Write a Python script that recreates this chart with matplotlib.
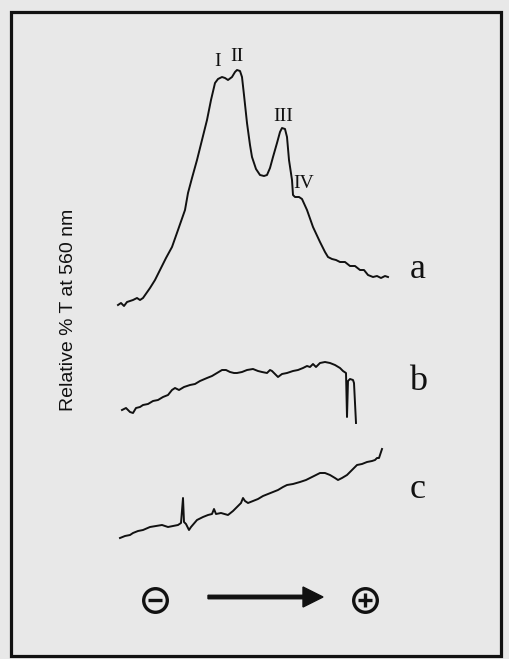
import matplotlib
matplotlib.use("Agg")
import matplotlib.pyplot as plt
from matplotlib.patches import Rectangle, FancyArrow

# densitometer traces, x = migration distance, y = signal above each trace's start
a_x = [0, 3, 6, 9, 15, 19, 22, 25, 32, 37, 42, 48, 54, 60, 67, 70, 74, 79, 84, 89,
       93, 97, 100, 104, 107, 110, 114, 117, 119, 122, 124, 126, 129, 132, 134, 138,
       142, 146, 149, 152, 155, 159, 162, 164, 167, 169, 171, 174, 175, 177, 181, 184,
       189, 195, 202, 207, 210, 214, 218, 222, 227, 232, 237, 242, 246, 250, 255, 259,
       263, 267, 270]
a_y = [0, 2, -1, 3, 5, 7, 5, 7, 17, 25, 35, 47, 58, 75, 95, 112, 127, 145, 165, 185,
       205, 222, 226, 228, 227, 225, 228, 233, 235, 234, 228, 210, 182, 160, 148, 136,
       130, 129, 130, 137, 148, 162, 173, 177, 176, 168, 145, 125, 110, 108, 108, 106,
       95, 78, 63, 53, 48, 46, 45, 43, 43, 39, 39, 35, 35, 30, 28, 29,
       27, 29, 28]

b_x = [4, 8, 12, 15, 18, 22, 25, 30, 35, 40, 45, 50, 54, 57, 61, 66, 72, 77, 82, 89,
       94, 99, 104, 108, 112, 116, 119, 124, 129, 135, 140, 144, 149, 152, 154, 157,
       160, 164, 169, 175, 180, 185, 189, 192, 195, 198, 202, 207, 212, 217, 222, 225,
       228, 229, 230, 232, 235, 236, 238]
b_y = [0, 2, -2, -3, 2, 3, 5, 6, 9, 10, 13, 15, 20, 22, 20, 23, 25, 26, 29, 32,
       34, 37, 40, 40, 38, 37, 37, 38, 40, 41, 39, 38, 37, 40, 39, 36,
       33, 36, 37, 39, 40, 42, 44, 43, 46, 43, 47, 48, 47, 45, 42, 39,
       37, -7, 29, 31, 30, 27, -13]

c_x = [2, 7, 12, 15, 20, 25, 32, 38, 44, 50, 55, 60, 63, 65, 66, 68, 71, 73, 79, 85,
       90, 94, 96, 98, 103, 110, 115, 119, 123, 125, 127, 130, 135, 140, 145, 150, 155,
       160, 165, 169, 175, 182, 188, 194, 198, 202, 207, 212, 217, 220, 224, 229, 234,
       239, 244, 249, 254, 257, 259, 261, 264]
c_y = [0, 2, 3, 5, 7, 8, 11, 12, 13, 11, 12, 13, 15, 40, 16, 14, 8, 11, 18, 21,
       23, 24, 29, 24, 25, 23, 27, 31, 35, 40, 37, 35, 37, 39, 42, 44, 46,
       48, 51, 53, 54, 56, 58, 61, 63, 65, 65, 63, 60, 58, 60, 63, 68,
       73, 74, 76, 77, 78, 80, 80, 89]

offsets = {'a': 255, 'b': 150, 'c': 22}

peak_names = ['I', 'II', 'III', 'IV']
peak_x = [100, 119, 165, 186]
peak_y = [235, 240, 180, 113]

ink = '#111111'
bg = '#e8e8e8'

fig = plt.figure(figsize=(5.10, 6.59), dpi=100, facecolor=bg)

# overlay in pixel units for frame, labels and the arrow
deco = fig.add_axes([0, 0, 1, 1])
deco.set_xlim(0, 510)
deco.set_ylim(659, 0)
deco.axis('off')
deco.patch.set_alpha(0)

deco.add_patch(Rectangle((11, 12), 490, 644, fill=False, ec=ink, lw=2.3))

ax = fig.add_axes([100 / 510, 1 - 560 / 659, 300 / 510, 520 / 659])
ax.set_xlim(-18, 282)
ax.set_ylim(0, 520)
ax.axis('off')
ax.patch.set_alpha(0)

ax.plot(a_x, [v + offsets['a'] for v in a_y], color=ink, lw=1.4)
ax.plot(b_x, [v + offsets['b'] for v in b_y], color=ink, lw=1.4)
ax.plot(c_x, [v + offsets['c'] for v in c_y], color=ink, lw=1.4)

for name, px, py in zip(peak_names, peak_x, peak_y):
    ax.text(px, py + offsets['a'], name, ha='center', va='bottom',
            fontsize=14, family='Liberation Serif', color=ink)

for lbl, y in [('a', 270), ('b', 381), ('c', 490)]:
    deco.text(418, y, lbl, ha='center', va='center', fontsize=26,
              family='Liberation Serif', color=ink)

deco.text(69, 310, 'Relative % T at 560 nm', rotation=90, ha='center', va='center',
          fontsize=14, family='Liberation Sans', color=ink)

# migration direction: cathode -> anode
deco.plot([155], [600], marker='o', ms=17, mfc='none', mec=ink, mew=2.4)
deco.plot([155], [600], marker='_', ms=10, mec=ink, mew=2.4)
deco.plot([365], [600], marker='o', ms=17, mfc='none', mec=ink, mew=2.4)
deco.plot([365], [600], marker='+', ms=10, mec=ink, mew=2.4)
deco.add_patch(FancyArrow(208, 597, 115, 0, width=3.5, head_width=20, head_length=20,
                          length_includes_head=True, color=ink))

fig.savefig('out.png', dpi=100, facecolor=bg)
